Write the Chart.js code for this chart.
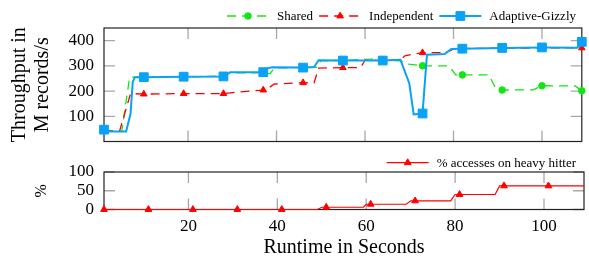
<!DOCTYPE html>
<html>
<head>
<meta charset="utf-8">
<script src="https://cdn.jsdelivr.net/npm/chart.js@4.4.1/dist/chart.umd.min.js"></script>
<style>
  html, body { margin: 0; padding: 0; background: #fff; }
  #wrap { position: relative; width: 589px; height: 259px; }
  canvas { position: absolute; left: 0; }
  #top { top: 0; }
  #bottom { top: 150px; }
</style>
</head>
<body>
<div id="wrap">
  <canvas id="top" width="589" height="150"></canvas>
  <canvas id="bottom" width="589" height="109"></canvas>
</div>
<script>
(function () {
    'use strict';

    // ── throughput panel (M records/s), breakpoints ──
    const sharedT = [1, 5, 6.8, 10, 19, 28, 29.5, 37, 38.5, 39.5, 46, 49.3, 50, 55, 62, 64, 68, 69.5, 73, 79, 80.5, 82, 88, 89.5, 91, 98, 100, 107.5, 109];
    const sharedV = [45, 40, 255, 255, 255, 260, 272, 273, 268, 292, 293, 294, 320, 322, 327, 322, 320, 307, 300, 300, 264, 264, 264, 211, 204, 205, 221, 220, 201];

    const indepT = [1, 4.5, 7, 10, 19, 28, 31, 37, 38, 39.5, 46, 48.5, 49.5, 55, 59, 60, 64, 68, 69, 71, 73, 78, 79.5, 80, 82, 91, 100, 109];
    const indepV = [42, 40, 190, 188, 190, 190, 196, 204, 210, 228, 233, 233, 291, 293, 293, 322, 322, 322, 340, 347, 352, 352, 362, 368, 369, 370, 371, 371];

    const gizzlyT = [1, 2, 6, 7, 7.5, 8, 10, 19, 28, 29.5, 37, 38, 39, 46, 48.5, 49.5, 55, 64, 68, 70, 71, 73, 74, 78, 79.5, 82, 91, 100, 108, 109];
    const gizzlyV = [47, 40, 40, 110, 237, 255, 255, 257, 258, 275, 275, 290, 294, 293, 295, 322, 321, 321, 324, 231, 107, 111, 344, 347, 367, 368, 371, 373, 372, 395];

    const markT = [1, 10, 19, 28, 37, 46, 55, 64, 73, 82, 91, 100, 109];

    // ── heavy hitter panel (%) ──
    const heavyT = [1, 11, 21, 31, 41, 49, 50, 51, 59.4, 60, 61, 69, 70, 71, 79, 80, 81, 89, 90, 91, 101, 109];
    const heavyV = [0, 0, 0, 0, 0, 0, 6, 6, 6, 14, 14, 14, 23, 23, 23, 40, 40, 40, 63, 63, 63, 63];
    const heavyMarkT = [1, 11, 21, 31, 41, 51, 61, 71, 81, 91, 101];

    const xTicks = [20, 40, 60, 80, 100];
    const thrTicks = [100, 200, 300, 400];
    const pctTicks = [0, 50, 100];

    const FONT = '"Liberation Serif", "Times New Roman", serif';
    Chart.defaults.font.family = FONT;
    Chart.defaults.color = '#000';

    const GREEN = '#12e612', RED = '#ff0000', BLUE = '#0aa2f5';

    const pts = (t, v) => t.map((x, i) => ({ x: x, y: v[i] }));
    const markAt = (marks, r) => c => (c.raw && marks.includes(c.raw.x)) ? r : 0;

    function series(label, t, v, color, marks, style, r, extra) {
        return Object.assign({
            label: label,
            data: pts(t, v),
            borderColor: color,
            backgroundColor: color,
            pointBackgroundColor: color,
            pointBorderColor: color,
            pointBorderWidth: 1,
            pointStyle: style,
            pointRadius: markAt(marks, r),
            legendRadius: r,
            fill: false,
            tension: 0,
            clip: false
        }, extra);
    }

    // frame + inward tick marks like pgfplots
    const frameTicks = {
        id: 'frameTicks',
        beforeDatasetsDraw(chart, args, opts) {
            const { ctx, chartArea: a, scales: { x, y } } = chart;
            ctx.save();
            ctx.strokeStyle = '#a8a8a8';
            ctx.lineWidth = 1.3;
            ctx.beginPath();
            opts.xTicks.forEach(v => {
                const px = x.getPixelForValue(v);
                ctx.moveTo(px, a.top); ctx.lineTo(px, a.top + 11);
                ctx.moveTo(px, a.bottom); ctx.lineTo(px, a.bottom - 11);
            });
            opts.yTicks.forEach(v => {
                const py = y.getPixelForValue(v);
                ctx.moveTo(a.left, py); ctx.lineTo(a.left + 11, py);
                ctx.moveTo(a.right, py); ctx.lineTo(a.right - 11, py);
            });
            ctx.stroke();
            ctx.strokeStyle = '#222';
            ctx.lineWidth = 1.2;
            ctx.strokeRect(a.left, a.top, a.right - a.left, a.bottom - a.top);
            ctx.restore();
        }
    };

    // legend entries: line sample with marker in the middle, then label
    const lineLegend = {
        id: 'lineLegend',
        afterDraw(chart, args, opts) {
            const ctx = chart.ctx;
            const sets = chart.data.datasets;
            const sample = 42, gap = 8, space = 6;
            ctx.save();
            ctx.font = '13px ' + FONT;
            let w = 0;
            sets.forEach(d => { w += sample + gap + ctx.measureText(d.label).width; });
            w += space * (sets.length - 1);
            let x = opts.right - w;
            const y = opts.y;
            sets.forEach(d => {
                ctx.strokeStyle = d.borderColor;
                ctx.lineWidth = d.borderWidth;
                ctx.setLineDash(d.borderDash || []);
                ctx.beginPath();
                ctx.moveTo(x, y); ctx.lineTo(x + sample, y);
                ctx.stroke();
                ctx.setLineDash([]);
                ctx.fillStyle = d.borderColor;
                ctx.lineWidth = 1;
                Chart.helpers.drawPoint(ctx, { pointStyle: d.pointStyle, radius: d.legendRadius, borderWidth: 1, rotation: 0 }, x + sample / 2, y);
                x += sample + gap;
                ctx.fillStyle = '#000';
                ctx.textBaseline = 'middle';
                ctx.textAlign = 'left';
                ctx.fillText(d.label, x, y + 1);
                x += ctx.measureText(d.label).width + space;
            });
            ctx.restore();
        }
    };

    const fixTicks = list => s => { s.ticks = list.map(v => ({ value: v })); };
    // pin the box size and drop the label overhang so the plot area stays put
    const fitBox = (w, h) => s => {
        if (w !== null) s.width = w;
        if (h !== null) s.height = h;
        s.paddingTop = 0; s.paddingBottom = 0; s.paddingLeft = 0; s.paddingRight = 0;
    };

    new Chart(document.getElementById('top'), {
        type: 'line',
        data: {
            datasets: [
                series('Shared', sharedT, sharedV, GREEN, markT, 'circle', 3.3, { borderWidth: 1.3, borderDash: [9, 6], order: 3 }),
                series('Independent', indepT, indepV, RED, markT, 'triangle', 3.8, { borderWidth: 1.3, borderDash: [9, 6], order: 2 }),
                series('Adaptive-Gizzly', gizzlyT, gizzlyV, BLUE, markT, 'rect', 6.2, { borderWidth: 2, order: 1 })
            ]
        },
        options: {
            responsive: false,
            animation: false,
            events: [],
            layout: { padding: { top: 28, right: 2, left: 0, bottom: 0 } },
            plugins: {
                legend: { display: false },
                tooltip: { enabled: false },
                frameTicks: { xTicks: xTicks, yTicks: thrTicks },
                lineLegend: { right: 576, y: 16 }
            },
            scales: {
                x: {
                    type: 'linear', min: 1, max: 109,
                    grid: { display: false, drawTicks: false },
                    border: { display: false },
                    ticks: { display: false },
                    afterBuildTicks: fixTicks(xTicks),
                    afterFit: fitBox(null, 8.5)
                },
                y: {
                    min: 0, max: 450,
                    grid: { display: false, drawTicks: false },
                    border: { display: false },
                    ticks: { font: { size: 17 }, padding: 10, autoSkip: false },
                    afterBuildTicks: fixTicks(thrTicks),
                    title: {
                        display: true,
                        text: ['Throughput in', 'M records/s'],
                        font: { size: 20, lineHeight: 1.15 },
                        padding: { top: 8.5, bottom: 0 }
                    },
                    afterFit: fitBox(104, null)
                }
            }
        },
        plugins: [frameTicks, lineLegend]
    });

    new Chart(document.getElementById('bottom'), {
        type: 'line',
        data: {
            datasets: [
                series('% accesses on heavy hitter', heavyT, heavyV, RED, heavyMarkT, 'triangle', 3.9, { borderWidth: 1.2 })
            ]
        },
        options: {
            responsive: false,
            animation: false,
            events: [],
            layout: { padding: { top: 22, right: 2, left: 0, bottom: 0 } },
            plugins: {
                legend: { display: false },
                tooltip: { enabled: false },
                frameTicks: { xTicks: xTicks, yTicks: pctTicks },
                lineLegend: { right: 576, y: 12.7 }
            },
            scales: {
                x: {
                    type: 'linear', min: 1, max: 109,
                    grid: { display: false, drawTicks: false },
                    border: { display: false },
                    ticks: { font: { size: 17 }, padding: 7, maxRotation: 0, autoSkip: false },
                    afterBuildTicks: fixTicks(xTicks),
                    title: {
                        display: true,
                        text: 'Runtime in Seconds',
                        font: { size: 20, lineHeight: 1.15 },
                        padding: { top: 0, bottom: 0 }
                    },
                    afterFit: fitBox(null, 49.5)
                },
                y: {
                    min: 0, max: 100,
                    grid: { display: false, drawTicks: false },
                    border: { display: false },
                    ticks: { font: { size: 17 }, padding: 10, autoSkip: false },
                    afterBuildTicks: fixTicks(pctTicks),
                    title: {
                        display: true,
                        text: '%',
                        font: { size: 16, lineHeight: 1.2 },
                        padding: { top: 32.4, bottom: 0 }
                    },
                    afterFit: fitBox(104, null)
                }
            }
        },
        plugins: [frameTicks, lineLegend]
    });
})();
</script>
</body>
</html>
